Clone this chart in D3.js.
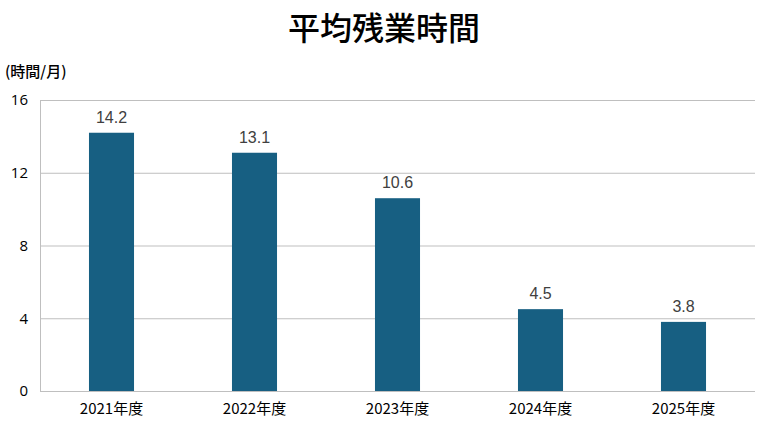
<!DOCTYPE html>
<html>
<head>
<meta charset="utf-8">
<script src="https://cdn.jsdelivr.net/npm/d3@7"></script>
<style>
  body { margin: 0; background: #fff; }
  svg { display: block; }
</style>
</head>
<body>
<div id="chart"></div>
<script>
const years = ["2021年度", "2022年度", "2023年度", "2024年度", "2025年度"];
const hours = [14.2, 13.1, 10.6, 4.5, 3.8];
const yTicks = [0, 4, 8, 12, 16];

const width = 768;
const height = 429;
const margin = { top: 100, right: 13, bottom: 38, left: 40 };

const svg = d3.select("#chart")
  .append("svg")
  .attr("width", width)
  .attr("height", height);

const x = d3.scaleBand()
  .domain(years)
  .range([margin.left, width - margin.right])
  .paddingInner(0.685)
  .paddingOuter(0.3425);

const y = d3.scaleLinear()
  .domain([0, 16])
  .range([height - margin.bottom, margin.top]);

// gridlines
svg.append("g")
  .selectAll("line")
  .data(yTicks)
  .enter()
  .append("line")
  .attr("x1", margin.left)
  .attr("x2", width - margin.right)
  .attr("y1", d => y(d) + 0.5)
  .attr("y2", d => y(d) + 0.5)
  .attr("stroke", "#bfbfbf")
  .attr("stroke-width", 1);

// left axis line
svg.append("line")
  .attr("x1", margin.left + 0.5)
  .attr("x2", margin.left + 0.5)
  .attr("y1", y(16))
  .attr("y2", y(0))
  .attr("stroke", "#bfbfbf");

// y tick labels
const yAxis = d3.axisLeft(y).tickValues(yTicks).tickSize(0).tickPadding(12);
svg.append("g")
  .attr("transform", `translate(${margin.left}, 0)`)
  .call(yAxis)
  .call(g => g.select(".domain").remove())
  .selectAll("text")
  .attr("font-family", "'Open Sans', 'Noto Sans', sans-serif")
  .attr("font-size", 15)
  .attr("fill", "#000");

// x labels
const xAxis = d3.axisBottom(x).tickSize(0).tickPadding(12);
svg.append("g")
  .attr("transform", `translate(0, ${y(0)})`)
  .call(xAxis)
  .call(g => g.select(".domain").remove())
  .selectAll("text")
  .attr("font-family", "'Noto Sans CJK JP', sans-serif")
  .attr("font-size", 15)
  .attr("fill", "#000");

// bars
svg.selectAll(".bar")
  .data(hours)
  .enter()
  .append("rect")
  .attr("class", "bar")
  .attr("x", (d, i) => x(years[i]))
  .attr("y", d => y(d))
  .attr("width", x.bandwidth())
  .attr("height", d => y(0) - y(d))
  .attr("fill", "#175f82");

// value labels
svg.selectAll(".val")
  .data(hours)
  .enter()
  .append("text")
  .attr("class", "val")
  .attr("x", (d, i) => x(years[i]) + x.bandwidth() / 2)
  .attr("y", d => y(d) - 10)
  .attr("text-anchor", "middle")
  .attr("font-family", "'Liberation Sans', Arial, sans-serif")
  .attr("font-size", 16)
  .attr("fill", "#404040")
  .text(d => d.toFixed(1));

// title
svg.append("text")
  .attr("x", 384)
  .attr("y", 40)
  .attr("text-anchor", "middle")
  .attr("font-family", "'Noto Sans CJK JP', sans-serif")
  .attr("font-weight", 500)
  .attr("font-size", 32)
  .attr("fill", "#000")
  .text("平均残業時間");

// unit label
svg.append("text")
  .attr("x", 5)
  .attr("y", 77)
  .attr("font-family", "'Noto Sans CJK JP', sans-serif")
  .attr("font-weight", 500)
  .attr("font-size", 15)
  .attr("fill", "#000")
  .text("(時間/月)");
</script>
</body>
</html>
